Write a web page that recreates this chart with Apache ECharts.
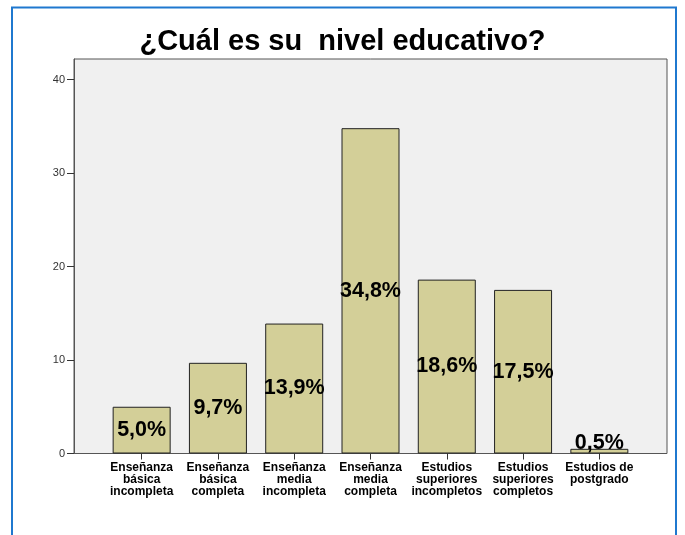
<!DOCTYPE html>
<html>
<head>
<meta charset="utf-8">
<script src="https://cdn.jsdelivr.net/npm/echarts@6/dist/echarts.min.js"></script>
<style>
  html, body { margin: 0; padding: 0; background: #fff; }
  #chart { width: 685px; height: 535px; }
</style>
</head>
<body>
<div id="chart"></div>
<script>
// categorias y porcentajes
var categories = [
  'Enseñanza\nbásica\nincompleta',
  'Enseñanza\nbásica\ncompleta',
  'Enseñanza\nmedia\nincompleta',
  'Enseñanza\nmedia\ncompleta',
  'Estudios\nsuperiores\nincompletos',
  'Estudios\nsuperiores\ncompletos',
  'Estudios de\npostgrado'
];
var percents = [5.0, 9.7, 13.9, 34.8, 18.6, 17.5, 0.5];
var yTicks = [0, 10, 20, 30, 40];

var yMax = 42.2;

var chart = echarts.init(document.getElementById('chart'));

var option = {
  animation: false,
  backgroundColor: '#fff',
  title: {
    text: '¿Cuál es su  nivel educativo?',
    left: 'center',
    top: 22,
    textStyle: {
      fontFamily: 'Liberation Sans, Arial, sans-serif',
      fontWeight: 'bold',
      fontSize: 29,
      color: '#000'
    }
  },
  graphic: [
    {
      // marco azul
      type: 'rect',
      shape: { x: 12, y: 7.5, width: 664, height: 540 },
      style: { fill: 'none', stroke: '#1f78cf', lineWidth: 2 },
      silent: true
    }
  ],
  grid: [
    {
      // fondo gris del area
      left: 74, top: 59, width: 593, height: 394.5,
      show: true,
      backgroundColor: '#f0f0f0',
      borderColor: '#555',
      borderWidth: 1
    },
    {
      left: 103.5, top: 59, width: 534, height: 394.5
    }
  ],
  xAxis: [
    {
      gridIndex: 0, type: 'value', min: 0, max: 1, show: false
    },
    {
      gridIndex: 1,
      type: 'category',
      data: categories,
      axisLine: { show: false },
      axisTick: { show: true, alignWithLabel: true, length: 6, lineStyle: { color: '#333' } },
      axisLabel: {
        interval: 0,
        margin: 8,
        color: '#000',
        fontFamily: 'Liberation Sans, Arial, sans-serif',
        fontWeight: 'bold',
        fontSize: 12,
        lineHeight: 12
      }
    }
  ],
  yAxis: [
    {
      gridIndex: 0,
      type: 'value',
      min: 0,
      max: yMax,
      interval: 10,
      splitLine: { show: false },
      axisLine: { show: true, lineStyle: { color: '#555' } },
      axisTick: { show: true, length: 7, lineStyle: { color: '#333' } },
      axisLabel: {
        margin: 9,
        color: '#333',
        fontFamily: 'Liberation Sans, Arial, sans-serif',
        fontSize: 11,
        showMaxLabel: false,
        formatter: function (v) { return yTicks.indexOf(v) >= 0 ? String(v) : ''; }
      }
    },
    {
      gridIndex: 1, type: 'value', min: 0, max: yMax, show: false
    }
  ],
  series: [
    {
      type: 'bar',
      xAxisIndex: 1,
      yAxisIndex: 1,
      barWidth: 58,
      data: percents.map(function (v) {
        return {
          value: v,
          label: v < 3 ? { position: 'top', distance: -5 } : {}
        };
      }),
      itemStyle: {
        color: '#d3cf98',
        borderColor: '#222',
        borderWidth: 1
      },
      label: {
        show: true,
        position: 'inside',
        color: '#000',
        fontFamily: 'Liberation Sans, Arial, sans-serif',
        fontWeight: 'bold',
        fontSize: 21.5,
        formatter: function (p) { return p.value.toFixed(1).replace('.', ',') + '%'; }
      }
    }
  ]
};

chart.setOption(option);
</script>
</body>
</html>
